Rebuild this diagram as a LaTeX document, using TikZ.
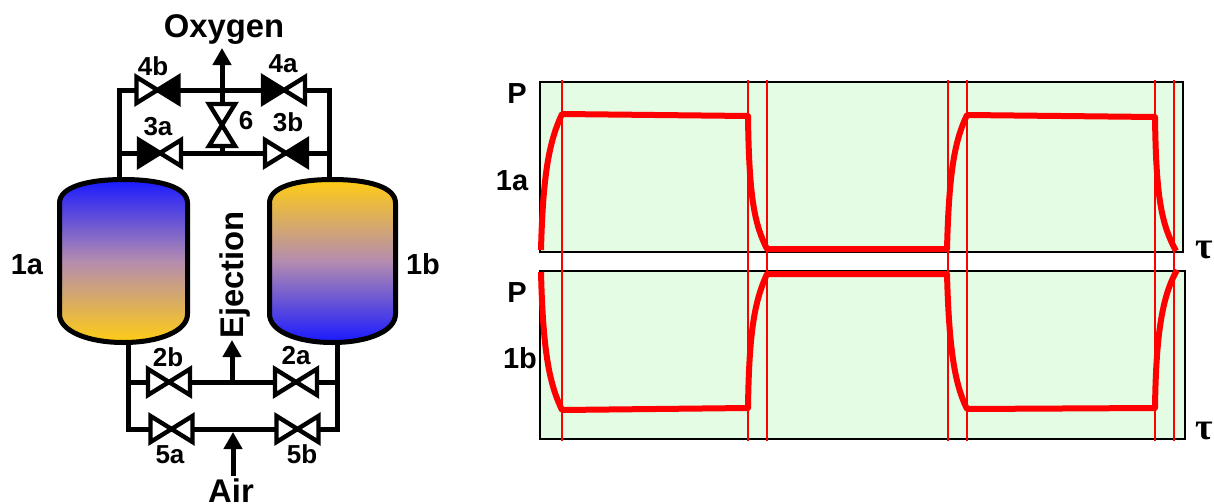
\documentclass[tikz,border=0pt]{standalone}
\usepackage{fontspec}
\setmainfont{Liberation Sans}
\newfontfamily\taufont{Liberation Serif}
\usetikzlibrary{arrows.meta}
\definecolor{plotbg}{RGB}{227,252,227}
\definecolor{gasblue}{RGB}{25,25,255}
\definecolor{gasyellow}{RGB}{255,205,20}
\definecolor{gasmix}{RGB}{180,140,175}
\tikzset{
  pipe/.style={line width=2.5pt},
  flow/.style={pipe,-{Triangle[length=8.5pt,width=9pt]}},
  lbl/.style={font=\bfseries\fontsize{13}{15}\selectfont, anchor=base, inner sep=0pt},
  big/.style={font=\bfseries\fontsize{16.4}{19}\selectfont, anchor=base, inner sep=0pt},
  mid/.style={font=\bfseries\fontsize{14.5}{17}\selectfont, anchor=base, inner sep=0pt},
  taulbl/.style={font=\taufont\bfseries\fontsize{19}{22}\selectfont, inner sep=0pt},
  trace/.style={red, line width=3pt, line join=round},
  marker/.style={red, line width=0.75pt},
  panel/.style={fill=plotbg, draw=black, line width=1pt},
}
% valve: #1 centre, #2 left half, #3 right half, #4 rotation
\newcommand{\valve}[4]{%
  \begin{scope}[shift={(#1)}, rotate=#4, line width=2.2pt]
    \filldraw[fill=#2] (-21,-13) -- (0,0) -- (-21,13) -- cycle;
    \filldraw[fill=#3] (21,-13) -- (0,0) -- (21,13) -- cycle;
  \end{scope}}
% tank: #1 left x, #2 right x, #3 top colour, #4 bottom colour
\newcommand{\tank}[4]{%
  \draw[pipe, top color=#3, bottom color=#4, middle color=gasmix]
    (#1,203) .. controls (#1,187) and ({(#1+#2)/2-36},179.5) .. ({(#1+#2)/2},179.5)
    .. controls ({(#1+#2)/2+36},179.5) and (#2,187) .. (#2,203)
    -- (#2,314) .. controls (#2,331) and ({(#1+#2)/2+36},342.5) .. ({(#1+#2)/2},342.5)
    .. controls ({(#1+#2)/2-36},342.5) and (#1,331) .. (#1,314) -- cycle;}

\begin{document}
\begin{tikzpicture}[x=0.5pt,y=-0.5pt]
  \useasboundingbox (0,0) rectangle (1214,503);

  % pipe junctions
  \coordinate (o1) at (119,90);   \coordinate (o2) at (329,90);
  \coordinate (s1) at (119,153);  \coordinate (s2) at (329,153);
  \coordinate (oc) at (222,90);   \coordinate (sc) at (222,153);
  \coordinate (otip) at (222,48);
  \coordinate (t1a) at (119,185); \coordinate (t1b) at (329,185);
  \coordinate (b1a) at (128,338); \coordinate (b1b) at (337,338);
  \coordinate (e1) at (128,382);  \coordinate (e2) at (337,382);
  \coordinate (a1) at (128,429);  \coordinate (a2) at (337,429);
  \coordinate (ec) at (232,382);  \coordinate (etip) at (232,340);
  \coordinate (ac) at (233,432);  \coordinate (abot) at (233,476);

  % pipes
  \draw[pipe] (t1a) -- (o1) -- (o2) -- (t1b);
  \draw[pipe] (s1) -- (s2);
  \draw[pipe] (sc) -- (oc);
  \draw[flow] (oc) -- (otip);
  \draw[pipe] (b1a) -- (a1) -- (a2) -- (b1b);
  \draw[pipe] (e1) -- (e2);
  \draw[flow] (ec) -- (etip);
  \draw[flow] (abot) -- (ac);

  % adsorbers
  \tank{59.5}{187.5}{gasblue}{gasyellow}
  \tank{269.5}{395.5}{gasyellow}{gasblue}

  % valves
  \coordinate (v4b) at (157.5,90);  \coordinate (v4a) at (284,90);
  \coordinate (v3a) at (160,153);   \coordinate (v3b) at (286,153);
  \coordinate (v6) at (222,125);
  \coordinate (v2b) at (169,382);   \coordinate (v2a) at (296,382);
  \coordinate (v5a) at (171.5,429); \coordinate (v5b) at (297.5,429);
  \valve{v4b}{white}{black}{0}
  \valve{v4a}{black}{white}{0}
  \valve{v3a}{black}{white}{0}
  \valve{v3b}{white}{black}{0}
  \valve{v6}{white}{white}{90}
  \valve{v2b}{white}{white}{0}
  \valve{v2a}{white}{white}{0}
  \valve{v5a}{white}{white}{0}
  \valve{v5b}{white}{white}{0}

  % labels
  \node[big] (oxy) at (224,37) {Oxygen};
  \node[big, rotate=90] (ejc) at (243,275) {Ejection};
  \node[big] (air) at (231,502) {Air};
  \node[mid] (n1a) at (27,274) {1a};
  \node[mid] (n1b) at (423,274) {1b};
  \node[lbl] (l4b) at (153,75) {4b};
  \node[lbl] (l4a) at (283,72) {4a};
  \node[lbl] (l3a) at (158,135) {3a};
  \node[lbl] (l3b) at (288,131) {3b};
  \node[lbl] (l6) at (246,129) {6};
  \node[lbl] (l2b) at (168,366) {2b};
  \node[lbl] (l2a) at (296,364) {2a};
  \node[lbl] (l5a) at (170,463) {5a};
  \node[lbl] (l5b) at (302,463) {5b};

  % pressure plots
  \draw[panel] (540,82) rectangle (1183,252);
  \draw[panel] (540,271) rectangle (1185,439);
  \foreach \x in {562,748,767,948,967,1155,1174}
    \draw[marker] (\x,80) -- (\x,441);

  \draw[trace] (541,250) .. controls (543,170) and (550,140) .. (562,114)
    -- (748,116) .. controls (749,200) and (755,225) .. (767,249)
    -- (947,249) .. controls (949,170) and (955,140) .. (967,115)
    -- (1155,117) .. controls (1156,200) and (1162,225) .. (1176,251);
  \draw[trace] (541,272) .. controls (543,355) and (550,385) .. (562,410)
    -- (748,408) .. controls (749,330) and (755,300) .. (767,274)
    -- (947,274) .. controls (949,350) and (955,385) .. (967,409)
    -- (1155,408) .. controls (1156,330) and (1163,295) .. (1177,270);

  \node[mid] (p1) at (517,103) {P};
  \node[mid] (q1) at (512,190) {1a};
  \node[mid] (p2) at (517,302) {P};
  \node[mid] (q2) at (520,368) {1b};
  \node[taulbl] (tau1) at (1204,250) {τ};
  \node[taulbl] (tau2) at (1204,431) {τ};
\end{tikzpicture}
\end{document}
